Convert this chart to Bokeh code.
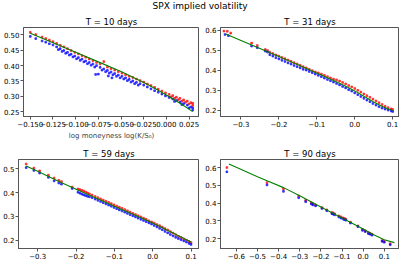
from bokeh.plotting import figure
from bokeh.layouts import column, row
from bokeh.models import FixedTicker, Range1d
from bokeh.embed import file_html
from bokeh.resources import INLINE
from bokeh.core.properties import value

FONT = "DejaVu Sans"
SUPTITLE = "SPX implied volatility"
XLABEL = "log moneyness log(K/S\u2080)"

# ---------------- T = 10 days ----------------
T10_TITLE = "T = 10 days"
T10_X_ASK = [-0.150, -0.144, -0.137, -0.133, -0.129, -0.125, -0.121, -0.117, -0.113, -0.109,
             -0.105, -0.101, -0.097, -0.093, -0.089, -0.085, -0.081, -0.077, -0.073, -0.069,
             -0.065, -0.061, -0.057, -0.053, -0.049, -0.045, -0.041, -0.037, -0.033, -0.029,
             -0.025, -0.021, -0.017, -0.013, -0.009, -0.005, -0.001, 0.003, 0.007, 0.011,
             0.015, 0.019, 0.023, 0.027, 0.029,
             0.005, 0.009, 0.013, 0.017, 0.021, 0.025, 0.029]
T10_ASK = [0.508, 0.501, 0.493, 0.488, 0.483, 0.478, 0.472, 0.466, 0.461, 0.455,
           0.449, 0.443, 0.438, 0.432, 0.427, 0.421, 0.416, 0.410, 0.405, 0.413,
           0.395, 0.390, 0.385, 0.380, 0.375, 0.370, 0.365, 0.361, 0.356, 0.351,
           0.346, 0.340, 0.335, 0.329, 0.323, 0.317, 0.311, 0.306, 0.302, 0.297,
           0.293, 0.288, 0.284, 0.279, 0.277,
           0.298, 0.293, 0.289, 0.284, 0.280, 0.275, 0.270]
T10_X_BID = [-0.150, -0.144, -0.137, -0.133, -0.129, -0.125, -0.121, -0.117, -0.113, -0.109,
             -0.105, -0.101, -0.097, -0.093, -0.089, -0.085, -0.081, -0.077, -0.073, -0.069,
             -0.065, -0.061, -0.057, -0.053, -0.049, -0.045, -0.041, -0.037, -0.033, -0.029,
             -0.025, -0.021, -0.017, -0.013, -0.009, -0.005, -0.001, 0.003, 0.007, 0.011,
             0.015, 0.019, 0.023, 0.027, 0.029,
             -0.119, -0.115, -0.111, -0.107, -0.103, -0.099, -0.095, -0.091, -0.087, -0.083,
             -0.079, -0.071, -0.067, -0.063, -0.059, -0.055, -0.051, -0.047, -0.043, -0.039,
             -0.035, -0.031, -0.078, -0.075, -0.064, -0.060, 0.009, 0.017, 0.025, 0.029]
T10_BID = [0.495, 0.488, 0.480, 0.476, 0.471, 0.467, 0.461, 0.455, 0.449, 0.443,
           0.437, 0.431, 0.426, 0.421, 0.415, 0.410, 0.405, 0.400, 0.394, 0.389,
           0.384, 0.379, 0.374, 0.369, 0.365, 0.360, 0.355, 0.350, 0.345, 0.341,
           0.336, 0.330, 0.324, 0.318, 0.313, 0.307, 0.301, 0.296, 0.291, 0.286,
           0.281, 0.276, 0.271, 0.265, 0.262,
           0.452, 0.446, 0.440, 0.434, 0.428, 0.422, 0.417, 0.412, 0.406, 0.401,
           0.395, 0.385, 0.380, 0.375, 0.370, 0.365, 0.360, 0.356, 0.351, 0.346,
           0.341, 0.336, 0.371, 0.372, 0.366, 0.360, 0.283, 0.273, 0.262, 0.255]
T10_X_FIT = [-0.150, -0.125, -0.100, -0.075, -0.050, -0.025, -0.0125, 0.000, 0.015, 0.029]
T10_FIT = [0.505, 0.474, 0.443, 0.412, 0.381, 0.345, 0.325, 0.304, 0.277, 0.250]
T10_XTICKS = [-0.150, -0.125, -0.100, -0.075, -0.050, -0.025, 0.000, 0.025]
T10_XLABELS = ["\u22120.150", "\u22120.125", "\u22120.100", "\u22120.075", "\u22120.050",
               "\u22120.025", "0.000", "0.025"]
T10_YTICKS = [0.25, 0.30, 0.35, 0.40, 0.45, 0.50]
T10_YLABELS = ["0.25", "0.30", "0.35", "0.40", "0.45", "0.50"]

# ---------------- T = 31 days ----------------
T31_TITLE = "T = 31 days"
T31_X_ASK = [-0.345, -0.336, -0.327, -0.272, -0.257, -0.236, -0.230,
             -0.224, -0.216, -0.208, -0.200, -0.192, -0.184, -0.176, -0.168, -0.160, -0.152,
             -0.144, -0.136, -0.128, -0.120, -0.112, -0.104, -0.096, -0.088, -0.080, -0.072,
             -0.064, -0.056, -0.048, -0.040, -0.032, -0.024, -0.016, -0.008, 0.000, 0.008,
             0.016, 0.024, 0.032, 0.040, 0.048, 0.056, 0.064, 0.072, 0.080, 0.088, 0.096, 0.100]
T31_ASK = [0.595, 0.594, 0.585, 0.535, 0.523, 0.503, 0.498,
           0.489, 0.483, 0.476, 0.470, 0.463, 0.457, 0.450, 0.444, 0.437, 0.431,
           0.424, 0.417, 0.411, 0.404, 0.397, 0.391, 0.386, 0.380, 0.374, 0.367,
           0.361, 0.355, 0.351, 0.345, 0.338, 0.331, 0.323, 0.316, 0.308, 0.299,
           0.290, 0.281, 0.272, 0.264, 0.255, 0.246, 0.237, 0.228, 0.219, 0.212, 0.206, 0.203]
T31_X_BID = [-0.342, -0.333, -0.272, -0.257, -0.236, -0.230,
             -0.224, -0.216, -0.208, -0.200, -0.192, -0.184, -0.176, -0.168, -0.160, -0.152,
             -0.144, -0.136, -0.128, -0.120, -0.112, -0.104, -0.096, -0.088, -0.080, -0.072,
             -0.064, -0.056, -0.048, -0.040, -0.032, -0.024, -0.016, -0.008, 0.000, 0.008,
             0.016, 0.024, 0.032, 0.040, 0.048, 0.056, 0.064, 0.072, 0.080, 0.088, 0.096, 0.100]
T31_BID = [0.578, 0.572, 0.520, 0.512, 0.495, 0.490,
           0.477, 0.470, 0.462, 0.456, 0.449, 0.443, 0.436, 0.430, 0.423, 0.417,
           0.411, 0.404, 0.400, 0.393, 0.387, 0.380, 0.374, 0.367, 0.360, 0.353,
           0.347, 0.340, 0.333, 0.326, 0.318, 0.311, 0.302, 0.295, 0.286, 0.277,
           0.268, 0.259, 0.250, 0.242, 0.233, 0.225, 0.217, 0.210, 0.205, 0.200, 0.196, 0.193]
T31_X_FIT = [-0.340, -0.300, -0.250, -0.200, -0.150, -0.100, -0.050, -0.020, 0.000,
             0.025, 0.050, 0.070, 0.085, 0.100]
T31_FIT = [0.580, 0.548, 0.508, 0.468, 0.427, 0.385, 0.343, 0.315, 0.296,
           0.268, 0.241, 0.221, 0.208, 0.198]
T31_XTICKS = [-0.3, -0.2, -0.1, 0.0, 0.1]
T31_XLABELS = ["\u22120.3", "\u22120.2", "\u22120.1", "0.0", "0.1"]
T31_YTICKS = [0.2, 0.3, 0.4, 0.5, 0.6]
T31_YLABELS = ["0.2", "0.3", "0.4", "0.5", "0.6"]

# ---------------- T = 59 days ----------------
T59_TITLE = "T = 59 days"
T59_X = [-0.330, -0.310, -0.295, -0.272, -0.257, -0.245, -0.238, -0.210,
         -0.195, -0.190, -0.185, -0.180, -0.175, -0.170, -0.165, -0.158, -0.150, -0.143,
         -0.136, -0.129, -0.122, -0.115, -0.108, -0.101, -0.094, -0.087, -0.080, -0.073,
         -0.066, -0.059, -0.052, -0.045, -0.038, -0.031, -0.024, -0.017, -0.010, -0.003,
         0.004, 0.011, 0.018, 0.025, 0.032, 0.039, 0.046, 0.053, 0.060, 0.067, 0.074,
         0.081, 0.088, 0.095, 0.100]
T59_ASK = [0.521, 0.504, 0.492, 0.474, 0.462, 0.452, 0.447, 0.424,
           0.416, 0.413, 0.410, 0.407, 0.403, 0.399, 0.395, 0.390, 0.384, 0.379,
           0.374, 0.369, 0.364, 0.359, 0.354, 0.349, 0.344, 0.339, 0.334, 0.329,
           0.324, 0.318, 0.313, 0.308, 0.303, 0.298, 0.293, 0.288, 0.282, 0.277,
           0.272, 0.266, 0.261, 0.255, 0.249, 0.243, 0.236, 0.230, 0.223, 0.216, 0.211,
           0.205, 0.200, 0.194, 0.190]
T59_BID = [0.506, 0.494, 0.483, 0.465, 0.450, 0.441, 0.436, 0.418,
           0.402, 0.398, 0.394, 0.391, 0.388, 0.385, 0.383, 0.379, 0.373, 0.368,
           0.363, 0.358, 0.353, 0.348, 0.343, 0.338, 0.333, 0.328, 0.323, 0.318,
           0.313, 0.308, 0.303, 0.298, 0.293, 0.288, 0.283, 0.278, 0.273, 0.268,
           0.262, 0.256, 0.250, 0.244, 0.237, 0.231, 0.224, 0.218, 0.212, 0.207, 0.202,
           0.197, 0.192, 0.186, 0.182]
T59_X_FIT = [-0.330, -0.300, -0.250, -0.200, -0.150, -0.100, -0.050, 0.000, 0.050, 0.100]
T59_FIT = [0.513, 0.490, 0.452, 0.415, 0.379, 0.343, 0.308, 0.272, 0.232, 0.192]
T59_XTICKS = [-0.3, -0.2, -0.1, 0.0, 0.1]
T59_XLABELS = ["\u22120.3", "\u22120.2", "\u22120.1", "0.0", "0.1"]
T59_YTICKS = [0.2, 0.3, 0.4, 0.5]
T59_YLABELS = ["0.2", "0.3", "0.4", "0.5"]

# ---------------- T = 90 days ----------------
T90_TITLE = "T = 90 days"
T90_X = [-0.645, -0.455, -0.377, -0.305, -0.272, -0.245, -0.238, -0.225, -0.195, -0.172,
         -0.148, -0.142, -0.135, -0.115, -0.105, -0.095, -0.088, -0.082, -0.060, -0.025,
         -0.003, 0.010, 0.025, 0.033, 0.042, 0.090, 0.100, 0.128]
T90_ASK = [0.600, 0.515, 0.480, 0.440, 0.416, 0.402, 0.397, 0.390, 0.375, 0.362,
           0.347, 0.344, 0.340, 0.328, 0.323, 0.317, 0.313, 0.309, 0.293, 0.272,
           0.252, 0.245, 0.234, 0.230, 0.225, 0.190, 0.185, 0.172]
T90_BID = [0.576, 0.502, 0.466, 0.430, 0.408, 0.395, 0.390, 0.385, 0.370, 0.357,
           0.341, 0.338, 0.334, 0.322, 0.316, 0.311, 0.307, 0.304, 0.288, 0.268,
           0.247, 0.240, 0.229, 0.225, 0.220, 0.185, 0.180, 0.166]
T90_X_FIT = [-0.635, -0.500, -0.455, -0.377, -0.300, -0.200, -0.100, 0.000, 0.050, 0.100, 0.148]
T90_FIT = [0.620, 0.548, 0.525, 0.487, 0.441, 0.378, 0.316, 0.254, 0.222, 0.194, 0.178]
T90_XTICKS = [-0.6, -0.5, -0.4, -0.3, -0.2, -0.1, 0.0, 0.1]
T90_XLABELS = ["\u22120.6", "\u22120.5", "\u22120.4", "\u22120.3", "\u22120.2", "\u22120.1", "0.0", "0.1"]
T90_YTICKS = [0.2, 0.3, 0.4, 0.5, 0.6]
T90_YLABELS = ["0.2", "0.3", "0.4", "0.5", "0.6"]

ASK_COLOR = "#ff0000"
BID_COLOR = "#0000ff"
FIT_COLOR = "#008000"
FRAME_COLOR = "#555555"


def panel(title, xr, yr, xa, ya, xb, yb, xf, yf, xt, xl, yt, yl,
          width, height, left, top, bottom, xlabel=None):
    p = figure(width=width, height=height, x_range=Range1d(*xr), y_range=Range1d(*yr),
               output_backend="svg", toolbar_location=None,
               min_border_left=left, min_border_right=0, min_border_top=top,
               min_border_bottom=bottom, background_fill_color="white",
               border_fill_color="white")
    p.title.text = title
    p.title.align = "center"
    p.title.text_font = FONT
    p.title.text_font_size = "8.5px"
    p.title.text_font_style = "normal"
    p.title.text_color = "#000000"
    p.title.standoff = 2
    p.grid.visible = False
    p.outline_line_color = FRAME_COLOR
    p.outline_line_width = 1
    for ax, ticks, labels in ((p.xaxis[0], xt, xl), (p.yaxis[0], yt, yl)):
        ax.ticker = FixedTicker(ticks=ticks, minor_ticks=[])
        ax.major_label_overrides = dict(zip(ticks, labels))
        ax.major_label_text_font = FONT
        ax.major_label_text_font_size = "7px"
        ax.major_label_text_color = "#000000"
        ax.major_label_standoff = 1
        ax.major_tick_out = 3
        ax.major_tick_in = 0
        ax.minor_tick_out = 0
        ax.minor_tick_in = 0
        ax.axis_line_color = FRAME_COLOR
        ax.major_tick_line_color = FRAME_COLOR
    if xlabel:
        p.xaxis.axis_label = xlabel
        p.xaxis.axis_label_text_font = FONT
        p.xaxis.axis_label_text_font_size = "7px"
        p.xaxis.axis_label_text_font_style = "normal"
        p.xaxis.axis_label_standoff = 2
    p.scatter(xa, ya, marker="square", size=1.7, color=ASK_COLOR, alpha=0.65)
    p.scatter(xb, yb, marker="square", size=1.7, color=BID_COLOR, alpha=0.65)
    p.line(xf, yf, color=FIT_COLOR, line_width=1.1)
    return p


p10 = panel(T10_TITLE, (-0.1575, 0.0365), (0.234, 0.524),
            T10_X_ASK, T10_ASK, T10_X_BID, T10_BID, T10_X_FIT, T10_FIT,
            T10_XTICKS, T10_XLABELS, T10_YTICKS, T10_YLABELS,
            199, 129, 18, 12, 25, xlabel=XLABEL)
p31 = panel(T31_TITLE, (-0.354, 0.118), (0.168, 0.613),
            T31_X_ASK, T31_ASK, T31_X_BID, T31_BID, T31_X_FIT, T31_FIT,
            T31_XTICKS, T31_XLABELS, T31_YTICKS, T31_YLABELS,
            200, 129, 21, 12, 25)
p59 = panel(T59_TITLE, (-0.350, 0.122), (0.165, 0.540),
            T59_X, T59_ASK, T59_X, T59_BID, T59_X_FIT, T59_FIT,
            T59_XTICKS, T59_XLABELS, T59_YTICKS, T59_YLABELS,
            199, 119, 18, 17, 12)
p90 = panel(T90_TITLE, (-0.675, 0.172), (0.145, 0.645),
            T90_X, T90_ASK, T90_X, T90_BID, T90_X_FIT, T90_FIT,
            T90_XTICKS, T90_XLABELS, T90_YTICKS, T90_YLABELS,
            200, 119, 21, 17, 12)

ptitle = figure(width=399, height=13, x_range=Range1d(0, 1), y_range=Range1d(0, 1),
                output_backend="svg", toolbar_location=None,
                min_border_left=0, min_border_right=0, min_border_top=0, min_border_bottom=0)
ptitle.axis.visible = False
ptitle.grid.visible = False
ptitle.outline_line_color = None
ptitle.text(x=[0.5], y=[1.0], text=[SUPTITLE], text_align="center", text_baseline="top",
            text_font=value(FONT), text_font_size="9px", text_color="#000000")

layout = column(ptitle, row(p10, p31), row(p59, p90))
open("out.html", "w").write(file_html(layout, INLINE))
